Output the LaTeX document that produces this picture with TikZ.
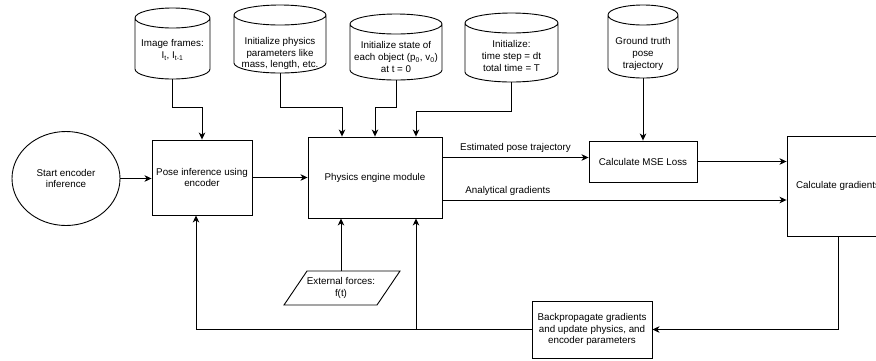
\documentclass[tikz,border=0pt]{standalone}
\usepackage{fontspec}
\setmainfont{Liberation Sans}
\usetikzlibrary{arrows.meta,calc,shapes.geometric}
\newcommand\mycyl[7]{%
  \pgfmathsetmacro\cylA{#2-#5/2}%
  \pgfmathsetmacro\cylB{#2+#5/2}%
  \pgfmathsetmacro\cylT{#3+10}%
  \pgfmathsetmacro\cylD{#4-10}%
  \pgfmathsetmacro\cylR{#5/2}%
  \draw[ln] (\cylA,\cylT) -- (\cylA,\cylD)
     arc[start angle=180,end angle=360,x radius=\cylR pt,y radius=10pt]
     -- (\cylB,\cylT)
     arc[start angle=0,end angle=180,x radius=\cylR pt,y radius=10pt]
     arc[start angle=180,end angle=360,x radius=\cylR pt,y radius=10pt];
  \node[minimum width=#5, minimum height={#4-#3}, inner sep=0] (#1) at (#2,{(#3+#4)/2}) {};
  \node (#1-t) at (#2,#6) {#7};
}
\begin{document}
\begin{tikzpicture}[x=1pt,y=-1pt,
  every node/.style={font=\fontsize{9.8}{11.6}\selectfont, align=center},
  ln/.style={line width=0.9pt, draw=black},
  box/.style={ln, rectangle, inner sep=2pt},
  arr/.style={ln, -{Stealth[length=7pt,width=6.5pt,inset=2pt]}},
  lbl/.style={inner sep=1pt}
]
\useasboundingbox (0,0) rectangle (876,360);

% cylinders
\mycyl{img}{172.5}{8}{79}{75}{50}{Image frames:\\I\textsubscript{t}, I\textsubscript{t-1}}
\mycyl{par}{280}{5}{73}{92}{53.5}{Initialize physics\\parameters like\\mass, length, etc.}
\mycyl{st}{396}{14}{80}{92}{57}{Initialize state of\\each object (p\textsubscript{0}, v\textsubscript{0})\\at t = 0}
\mycyl{tm}{511.5}{13}{82}{93}{56}{Initialize:\\time step = dt\\total time = T}
\mycyl{gt}{643}{5}{78}{70}{54}{Ground truth\\pose\\trajectory}

% main nodes
\node[ln, ellipse, minimum width=108, minimum height=94, inner sep=0] (start) at (66,178.5) {Start encoder\\inference};
\node[box, minimum width=100, minimum height=75] (pose) at (202,177.5) {Pose inference using\\encoder};
\node[box, minimum width=134, minimum height=81] (phys) at (375,177.5) {Physics engine module};
\node[box, minimum width=108, minimum height=41] (mse) at (643,161.5) {Calculate MSE Loss};
\node[box, minimum width=102, minimum height=100] (grad) at (838,186) {Calculate gradients};
\node[box, minimum width=120, minimum height=57] (back) at (592,329.5) {Backpropagate gradients\\and update physics, and\\encoder parameters};

\node[minimum width=116, minimum height=34, inner sep=0] (ext) at (341,288) {External forces:\\f(t)};
\draw[ln] (307,271) -- (400,271) -- (377,305) -- (284,305) -- cycle;

% connectors from cylinders
\draw[arr] (img.south) -- ++(0,28) -| (pose.north);
\draw[arr] (par.south) -- ++(0,34) -| ([xshift=-33pt]phys.north);
\draw[arr] (st.south) -- ++(0,27) -| (phys.north);
\draw[arr] (tm.south) -- ++(0,29) -| ([xshift=41pt]phys.north);
\draw[arr] (gt.south) -- (gt.south |- mse.north);

% main flow
\draw[arr] (start.east) -- (start.east -| pose.west);
\draw[arr] (pose.east) -- (pose.east -| phys.west);
\draw[arr] ([yshift=20pt]phys.east) -- ([yshift=20pt]phys.east -| mse.west)
   node[lbl, midway, above=4pt] {Estimated pose trajectory};
\draw[arr] ([yshift=-22.5pt]phys.east) -- ([yshift=-22.5pt]phys.east -| grad.west)
   node[lbl, pos=0.19, above=3pt] {Analytical gradients};
\draw[arr] (mse.east) -- (mse.east -| grad.west);

% feedback
\draw[arr] (grad.south) |- (back.east);
\draw[arr] (back.west) -| ([xshift=-6pt]pose.south);
\draw[arr] ([xshift=41pt]phys.south |- back.west) -- ([xshift=41pt]phys.south);
\draw[arr] (ext.north) -- (ext.north |- phys.south);
\end{tikzpicture}
\end{document}
